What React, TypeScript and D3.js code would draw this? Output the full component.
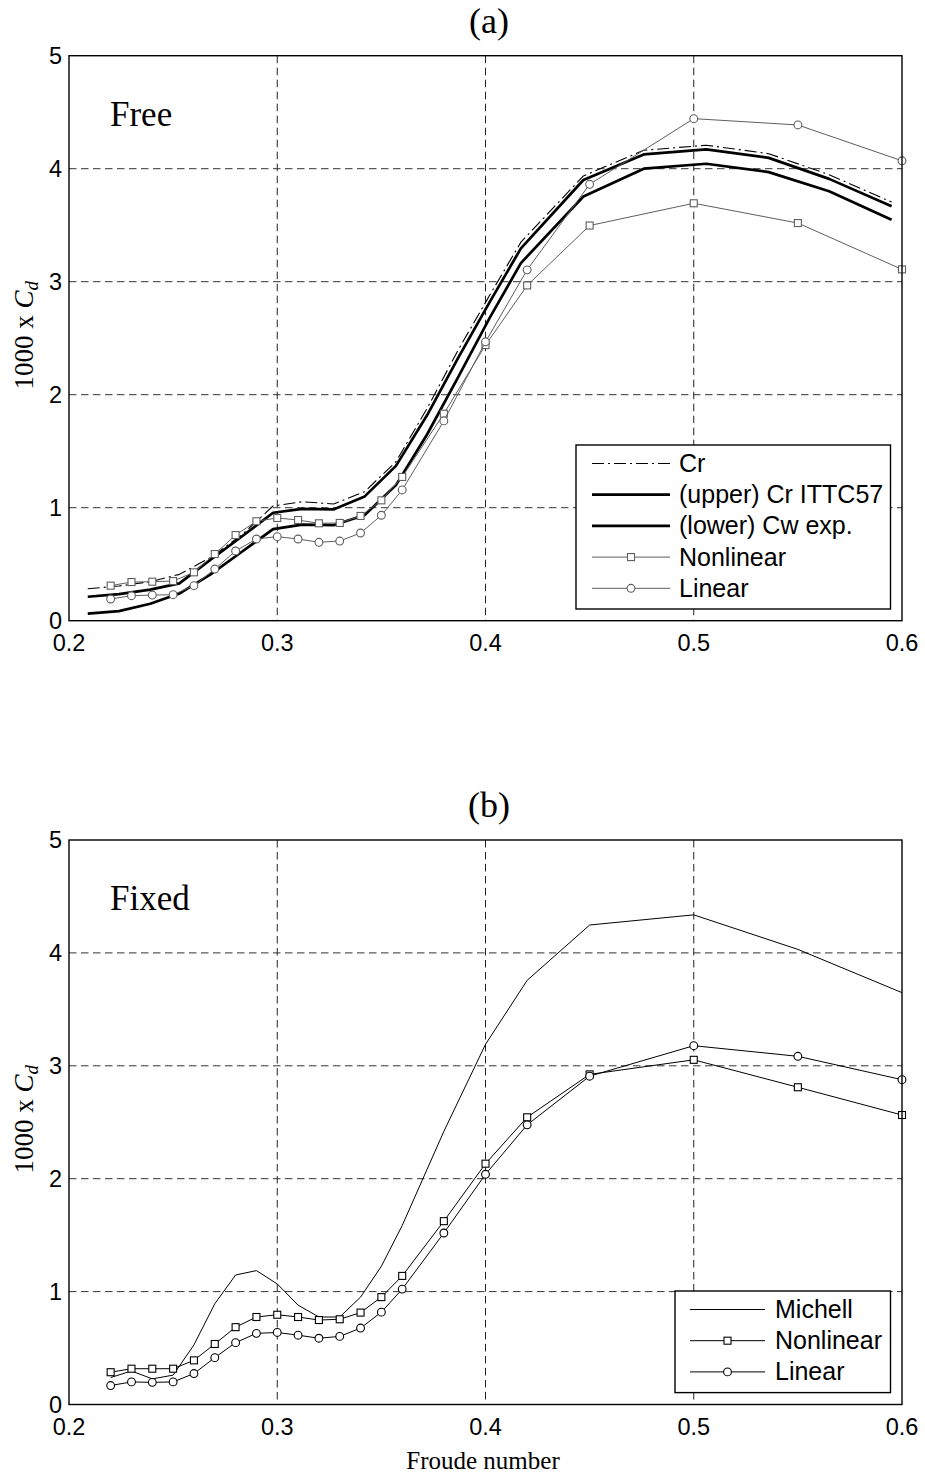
import React from "react";
import * as d3 from "d3";

// Froude numbers of the computed (model) points
const FR_MODEL = [
  0.22, 0.23, 0.24, 0.25, 0.26, 0.27, 0.28, 0.29, 0.3, 0.31, 0.32, 0.33, 0.34, 0.35, 0.36,
  0.38, 0.4, 0.42, 0.45, 0.5, 0.55, 0.6,
];

// Froude numbers of the experimental curves
const FR_EXP = [
  0.209, 0.224, 0.239, 0.253, 0.268, 0.283, 0.298, 0.312, 0.327, 0.342, 0.357, 0.372, 0.387,
  0.402, 0.417, 0.447, 0.476, 0.506, 0.536, 0.565, 0.595,
];

// (a) Free model: experimental curves (1000 x Cd)
const CR = [
  0.283, 0.307, 0.345, 0.41, 0.56, 0.76, 1.015, 1.053, 1.033, 1.142, 1.407, 1.88, 2.4, 2.88,
  3.35, 3.936, 4.163, 4.208, 4.133, 3.947, 3.705,
];
const CR_ITTC57 = [
  0.212, 0.235, 0.275, 0.33, 0.54, 0.745, 0.955, 0.99, 0.985, 1.1, 1.37, 1.82, 2.33, 2.82,
  3.295, 3.9, 4.126, 4.171, 4.096, 3.91, 3.668,
];
const CW_EXP = [
  0.062, 0.085, 0.15, 0.24, 0.41, 0.61, 0.81, 0.85, 0.845, 0.935, 1.2, 1.65, 2.16, 2.68,
  3.165, 3.754, 4.0, 4.044, 3.97, 3.8, 3.549,
];

// (a) Free model: computed values
const NONLINEAR_FREE = [
  0.31, 0.342, 0.345, 0.351, 0.428, 0.59, 0.758, 0.88, 0.909, 0.891, 0.862, 0.865, 0.927, 1.065,
  1.272, 1.832, 2.439, 2.967, 3.497, 3.694, 3.519, 3.109,
];
const LINEAR_FREE = [
  0.192, 0.221, 0.227, 0.23, 0.31, 0.457, 0.617, 0.723, 0.744, 0.723, 0.694, 0.705, 0.776, 0.933,
  1.157, 1.768, 2.468, 3.105, 3.862, 4.443, 4.387, 4.07,
];

// (b) Fixed model: computed values
const MICHELL = [
  0.239, 0.297, 0.227, 0.26, 0.528, 0.892, 1.147, 1.186, 1.068, 0.88, 0.775, 0.775, 0.951, 1.225,
  1.585, 2.419, 3.19, 3.757, 4.247, 4.337, 4.031, 3.648,
];
const NONLINEAR_FIXED = [
  0.286, 0.317, 0.317, 0.317, 0.391, 0.536, 0.685, 0.775, 0.795, 0.775, 0.748, 0.755, 0.814,
  0.951, 1.139, 1.624, 2.133, 2.544, 2.924, 3.053, 2.81, 2.564,
];
const LINEAR_FIXED = [
  0.168, 0.2, 0.196, 0.2, 0.274, 0.415, 0.548, 0.63, 0.638, 0.614, 0.587, 0.603, 0.677, 0.818,
  1.022, 1.519, 2.039, 2.477, 2.908, 3.178, 3.084, 2.877,
];

const X_TICKS = [0.2, 0.3, 0.4, 0.5, 0.6];
const Y_TICKS = [0, 1, 2, 3, 4, 5];

const SANS = "'Liberation Sans', Arial, Helvetica, sans-serif";
const SERIF = "'Liberation Serif', 'Times New Roman', serif";
const GRAY = "#5e5e5e";

const W = 925;
const H = 1473;
const LEFT = 69;
const RIGHT = 902;

const x = d3.scaleLinear().domain([0.2, 0.6]).range([LEFT, RIGHT]);

type Series = {
  fr: number[];
  v: number[];
  stroke: string;
  width: number;
  dash?: string;
  marker?: "square" | "circle";
};

function Marker({ kind, cx, cy, color }: { kind: "square" | "circle"; cx: number; cy: number; color: string }) {
  if (kind === "square") {
    const s = 7;
    return <rect x={cx - s / 2} y={cy - s / 2} width={s} height={s} fill="#fff" stroke={color} strokeWidth={1.1} />;
  }
  return <circle cx={cx} cy={cy} r={3.9} fill="#fff" stroke={color} strokeWidth={1.1} />;
}

type LegendItem = { label: string; stroke: string; width: number; dash?: string; marker?: "square" | "circle" };

function Panel({
  top,
  bottom,
  title,
  tag,
  series,
  legend,
  legendBox,
  xLabel,
}: {
  top: number;
  bottom: number;
  title: string;
  tag: string;
  series: Series[];
  legend: LegendItem[];
  legendBox: { x0: number; x1: number; y0: number; lineX0: number; lineX1: number; textX: number };
  xLabel?: string;
}) {
  const y = d3.scaleLinear().domain([0, 5]).range([bottom, top]);
  const rowH = 31.2;
  const legendH = legend.length * rowH + 8;
  return (
    <g>
      {/* grid */}
      {X_TICKS.slice(1, -1).map((t) => (
        <line key={"gx" + t} x1={x(t)} x2={x(t)} y1={top} y2={bottom} stroke="#222" strokeWidth={1} strokeDasharray="7.5,4.5" />
      ))}
      {Y_TICKS.slice(1, -1).map((t) => (
        <line key={"gy" + t} x1={LEFT} x2={RIGHT} y1={y(t)} y2={y(t)} stroke="#333" strokeWidth={1} strokeDasharray="7.5,4.5" />
      ))}

      {/* series */}
      {series.map((s, i) => {
        const pts = s.fr.map((f, k) => [f, s.v[k]] as [number, number]);
        const path = d3
          .line<[number, number]>()
          .x((d) => x(d[0]))
          .y((d) => y(d[1]))(pts);
        return (
          <g key={i}>
            <path d={path || ""} fill="none" stroke={s.stroke} strokeWidth={s.width} strokeDasharray={s.dash} strokeLinejoin="round" />
            {s.marker &&
              pts.map((d, k) => <Marker key={k} kind={s.marker!} cx={x(d[0])} cy={y(d[1])} color={s.stroke} />)}
          </g>
        );
      })}

      {/* axes box */}
      <rect x={LEFT} y={top} width={RIGHT - LEFT} height={bottom - top} fill="none" stroke="#000" strokeWidth={1.4} />

      {/* tick labels */}
      {X_TICKS.map((t) => (
        <text key={"xt" + t} x={x(t)} y={bottom + 30.5} textAnchor="middle" fontFamily={SANS} fontSize={23.5}>
          {t.toFixed(1)}
        </text>
      ))}
      {Y_TICKS.map((t) => (
        <text key={"yt" + t} x={LEFT - 7} y={y(t) + 8} textAnchor="end" fontFamily={SANS} fontSize={23.5}>
          {t}
        </text>
      ))}

      {/* title and tag */}
      <text x={489} y={top - 23} textAnchor="middle" fontFamily={SERIF} fontSize={36}>
        {title}
      </text>
      <text x={LEFT + 41} y={top + 70} fontFamily={SERIF} fontSize={35}>
        {tag}
      </text>

      {/* y label */}
      <text
        transform={`translate(33,${(top + bottom) / 2 - 3}) rotate(-90)`}
        textAnchor="middle"
        fontFamily={SERIF}
        fontSize={27}
      >
        1000 x <tspan fontStyle="italic">C</tspan>
        <tspan fontStyle="italic" fontSize={19} dy={5}>
          d
        </tspan>
      </text>

      {xLabel && (
        <text x={483} y={bottom + 64} textAnchor="middle" fontFamily={SERIF} fontSize={25}>
          {xLabel}
        </text>
      )}

      {/* legend */}
      <rect
        x={legendBox.x0}
        y={legendBox.y0}
        width={legendBox.x1 - legendBox.x0}
        height={legendH}
        fill="#fff"
        stroke="#000"
        strokeWidth={1.4}
      />
      {legend.map((it, i) => {
        const cy = legendBox.y0 + 18.5 + i * rowH;
        const mx = (legendBox.lineX0 + legendBox.lineX1) / 2;
        return (
          <g key={it.label}>
            <line
              x1={legendBox.lineX0}
              x2={legendBox.lineX1}
              y1={cy}
              y2={cy}
              stroke={it.stroke}
              strokeWidth={it.width}
              strokeDasharray={it.dash}
            />
            {it.marker && <Marker kind={it.marker} cx={mx} cy={cy} color={it.stroke} />}
            <text x={legendBox.textX} y={cy + 8.5} fontFamily={SANS} fontSize={25}>
              {it.label}
            </text>
          </g>
        );
      })}
    </g>
  );
}

export default function App() {
  const dashDot = "12,4,2,4";
  const seriesA: Series[] = [
    { fr: FR_EXP, v: CR, stroke: "#000", width: 1.1, dash: dashDot },
    { fr: FR_EXP, v: CR_ITTC57, stroke: "#000", width: 2.7 },
    { fr: FR_EXP, v: CW_EXP, stroke: "#000", width: 2.7 },
    { fr: FR_MODEL, v: NONLINEAR_FREE, stroke: GRAY, width: 1, marker: "square" },
    { fr: FR_MODEL, v: LINEAR_FREE, stroke: GRAY, width: 1, marker: "circle" },
  ];
  const legendA: LegendItem[] = [
    { label: "Cr", stroke: "#000", width: 1.1, dash: dashDot },
    { label: "(upper) Cr ITTC57", stroke: "#000", width: 2.7 },
    { label: "(lower) Cw exp.", stroke: "#000", width: 2.7 },
    { label: "Nonlinear", stroke: GRAY, width: 1, marker: "square" },
    { label: "Linear", stroke: GRAY, width: 1, marker: "circle" },
  ];
  const seriesB: Series[] = [
    { fr: FR_MODEL, v: MICHELL, stroke: "#000", width: 1 },
    { fr: FR_MODEL, v: NONLINEAR_FIXED, stroke: "#000", width: 1, marker: "square" },
    { fr: FR_MODEL, v: LINEAR_FIXED, stroke: "#000", width: 1, marker: "circle" },
  ];
  const legendB: LegendItem[] = [
    { label: "Michell", stroke: "#000", width: 1 },
    { label: "Nonlinear", stroke: "#000", width: 1, marker: "square" },
    { label: "Linear", stroke: "#000", width: 1, marker: "circle" },
  ];

  return (
    <svg
      width={W}
      height={H}
      viewBox={`0 0 ${W} ${H}`}
      style={{ position: "absolute", left: 0, top: 0, display: "block", background: "#fff" }}
    >
      <rect width={W} height={H} fill="#fff" />
      <Panel
        top={55.7}
        bottom={620.7}
        title="(a)"
        tag="Free"
        series={seriesA}
        legend={legendA}
        legendBox={{ x0: 576, x1: 890.5, y0: 445, lineX0: 592, lineX1: 670, textX: 679 }}
      />
      <Panel
        top={840}
        bottom={1404.5}
        title="(b)"
        tag="Fixed"
        series={seriesB}
        legend={legendB}
        legendBox={{ x0: 675, x1: 890.5, y0: 1291, lineX0: 690, lineX1: 765, textX: 775 }}
        xLabel="Froude number"
      />
    </svg>
  );
}
